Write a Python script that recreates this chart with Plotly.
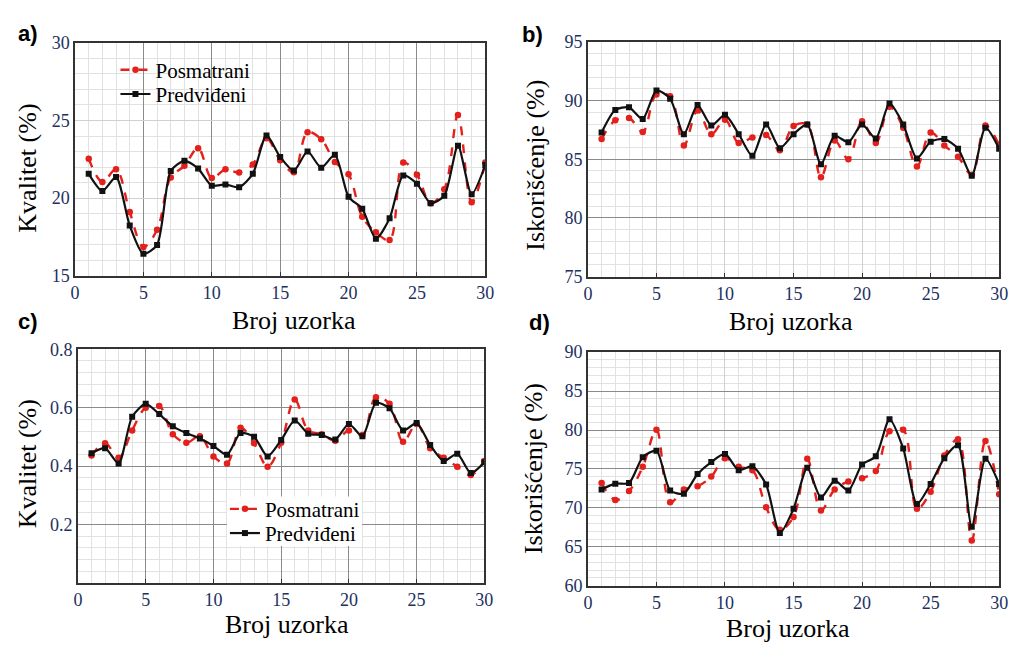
import plotly.graph_objects as go

# ---------------- data ----------------
sample = list(range(1, 31))

a_posmatrani = [22.54, 21.04, 21.85, 19.10, 16.85, 17.96, 21.33, 22.08, 23.21, 21.29,
                21.85, 21.65, 22.17, 23.85, 22.44, 21.67, 24.25, 23.79, 22.33, 21.54,
                18.79, 17.79, 17.29, 22.29, 21.50, 19.67, 20.56, 25.35, 19.73, 22.29]
a_predvideni = [21.56, 20.46, 21.35, 18.23, 16.40, 16.98, 21.75, 22.40, 21.90, 20.80,
                20.88, 20.70, 21.56, 24.04, 22.65, 21.77, 23.00, 21.96, 22.79, 20.08,
                19.31, 17.38, 18.69, 21.46, 20.92, 19.67, 20.15, 23.38, 20.25, 22.13]

b_posmatrani = [86.72, 88.32, 88.52, 87.33, 90.53, 90.37, 86.17, 89.15, 87.14, 88.38,
                86.39, 86.86, 87.06, 85.76, 87.83, 87.97, 83.47, 86.59, 85.01, 88.24,
                86.39, 89.48, 87.69, 84.38, 87.28, 86.17, 85.21, 83.69, 87.88, 86.23]
b_predvideni = [87.28, 89.21, 89.43, 88.43, 90.86, 90.17, 87.14, 89.62, 87.88, 88.79,
                87.14, 85.29, 87.97, 85.95, 87.14, 87.97, 84.57, 87.00, 86.45, 87.97,
                86.78, 89.76, 87.97, 85.07, 86.50, 86.72, 85.90, 83.60, 87.69, 85.90]

c_posmatrani = [0.436, 0.478, 0.428, 0.522, 0.600, 0.606, 0.509, 0.480, 0.502, 0.433,
                0.409, 0.531, 0.478, 0.398, 0.480, 0.628, 0.522, 0.509, 0.487, 0.522,
                0.506, 0.636, 0.613, 0.483, 0.544, 0.461, 0.428, 0.398, 0.369, 0.417]
c_predvideni = [0.444, 0.461, 0.409, 0.569, 0.613, 0.578, 0.536, 0.513, 0.494, 0.469,
                0.439, 0.513, 0.500, 0.433, 0.489, 0.556, 0.511, 0.506, 0.491, 0.544,
                0.502, 0.617, 0.598, 0.522, 0.547, 0.472, 0.417, 0.442, 0.376, 0.413]

d_posmatrani = [73.20, 71.00, 72.16, 75.27, 80.04, 70.71, 72.37, 72.78, 74.02, 76.39,
                75.27, 74.85, 70.08, 67.18, 68.84, 76.31, 69.67, 72.37, 73.40, 73.82,
                74.73, 79.83, 80.04, 69.88, 72.07, 76.72, 78.80, 65.81, 78.59, 71.74]
d_predvideni = [72.37, 73.11, 73.20, 76.51, 77.34, 72.24, 71.83, 74.36, 75.89, 76.93,
                74.85, 75.35, 72.99, 66.76, 69.88, 75.15, 71.33, 73.49, 72.24, 75.56,
                76.64, 81.37, 77.63, 70.50, 73.07, 76.39, 78.05, 67.59, 76.31, 73.07]

x_ticks = [0, 5, 10, 15, 20, 25, 30]
a_yticks = [15, 20, 25, 30]
b_yticks = [75, 80, 85, 90, 95]
c_yticks = [0.2, 0.4, 0.6, 0.8]
d_yticks = [60, 65, 70, 75, 80, 85, 90]

name_obs = "Posmatrani"
name_pred = "Predviđeni"
x_title = "Broj uzorka"

# ---------------- styling ----------------
W, H = 1021, 651
SERIF = "Liberation Serif"
SANS = "Liberation Sans"
TICKCOL = "#22305e"
RED = "#e3201c"
DARKGRID = "#8a8a8a"
LIGHTGRID = "#d0d0d0"
MINORGRID = "#e2e2e2"


def px_x(a, b):
    return [a / W, b / W]


def px_y(top, bottom):
    return [1 - bottom / H, 1 - top / H]


# key, x px, y px, y range, y ticks, y minor step, dark x-major, dark y-major, obs, pred, legends
panels = [
    ("1", (71, 487), (34, 274), [15, 30], a_yticks, 1, True, False, a_posmatrani, a_predvideni, ("legend", "legend3")),
    ("2", (591, 1008), (33, 275), [75, 95], b_yticks, 1, False, True, b_posmatrani, b_predvideni, None),
    ("3", (74, 486), (350, 591), [0, 0.8], c_yticks, 0.04, True, True, c_posmatrani, c_predvideni, ("legend2", "legend4")),
    ("4", (591, 1008), (353, 594), [60, 90], d_yticks, 1, False, True, d_posmatrani, d_predvideni, None),
]

fig = go.Figure()
layout = {}

for key, xd, yd, yr, ytv, ymin, xdark, ydark, obs, pred, legs in panels:
    xa = "x" if key == "1" else "x" + key
    ya = "y" if key == "1" else "y" + key
    xname = "xaxis" if key == "1" else "xaxis" + key
    yname = "yaxis" if key == "1" else "yaxis" + key
    show = legs is not None
    l_obs, l_pred = legs if legs else ("legend", "legend")
    fig.add_trace(go.Scatter(
        x=sample, y=obs, name=name_obs, mode="lines+markers",
        line=dict(color=RED, width=2.4, dash="dash", shape="spline", smoothing=1.0),
        marker=dict(symbol="circle", size=6.5, color=RED),
        xaxis=xa, yaxis=ya, showlegend=show, legend=l_obs))
    fig.add_trace(go.Scatter(
        x=sample, y=pred, name=name_pred, mode="lines+markers",
        line=dict(color="#111111", width=2.2, shape="spline", smoothing=0.7),
        marker=dict(symbol="square", size=6, color="#111111"),
        xaxis=xa, yaxis=ya, showlegend=show, legend=l_pred))

    layout[xname] = dict(
        domain=px_x(*xd), range=[0, 30], anchor=ya,
        tickvals=x_ticks, ticks="inside", ticklen=4, tickcolor="#333",
        showgrid=True, gridcolor=DARKGRID if xdark else LIGHTGRID, gridwidth=1,
        minor=dict(dtick=1, tick0=0, showgrid=True, gridcolor=MINORGRID, gridwidth=1),
        showline=True, linecolor="#333333", linewidth=1.6, mirror=True,
        zeroline=False,
        tickfont=dict(family=SERIF, size=18, color=TICKCOL))
    layout[yname] = dict(
        domain=px_y(*yd), range=yr, anchor=xa,
        tickvals=ytv, ticks="",
        showgrid=True, gridcolor=DARKGRID if ydark else LIGHTGRID, gridwidth=1,
        minor=dict(dtick=ymin, tick0=yr[0], showgrid=True, gridcolor=MINORGRID, gridwidth=1),
        showline=True, linecolor="#333333", linewidth=1.6, mirror=True,
        zeroline=False,
        tickfont=dict(family=SERIF, size=18, color=TICKCOL))

annotations = []


def ann(text, xc, yc, size, angle=0, bold=False, family=SERIF, color="black"):
    annotations.append(dict(
        text=("<b>%s</b>" % text) if bold else text,
        x=xc / W, y=1 - yc / H, xref="paper", yref="paper",
        xanchor="center", yanchor="middle", showarrow=False, textangle=angle,
        font=dict(family=family, size=size, color=color)))


# panel labels
ann("a)", 23, 24, 22, bold=True, family=SANS)
ann("b)", 535, 25, 22, bold=True, family=SANS)
ann("c)", 23, 321, 22, bold=True, family=SANS)
ann("d)", 542, 322, 22, bold=True, family=SANS)

# axis titles
ann("Kvalitet (%)", 23, 163, 26, angle=-90)
ann("Iskorišćenje (%)", 537, 160, 26, angle=-90)
ann("Kvalitet (%)", 23, 468, 26, angle=-90)
ann("Iskorišćenje (%)", 536, 473, 26, angle=-90)
ann(x_title, 293, 320, 26)
ann(x_title, 797, 321, 26)
ann(x_title, 286, 634, 26)
ann(x_title, 794, 638, 26)


def legend_at(xpx, ypx, size):
    return dict(x=xpx / W, y=1 - ypx / H, xanchor="left", yanchor="middle",
                bgcolor="rgba(255,255,255,0)", font=dict(family=SERIF, size=size, color="black"),
                itemwidth=30, tracegroupgap=0)


# white box behind the legend of panel c
legend_box = dict(type="rect", xref="paper", yref="paper",
                  x0=225 / W, x1=362 / W, y0=1 - 553 / H, y1=1 - 502 / H,
                  fillcolor="white", line=dict(width=0), layer="above")

fig.update_layout(
    width=W, height=H,
    margin=dict(l=0, r=0, t=0, b=0),
    paper_bgcolor="white", plot_bgcolor="white",
    annotations=annotations,
    shapes=[legend_box],
    legend=legend_at(112, 62, 21),
    legend3=legend_at(112, 87, 21),
    legend2=legend_at(223, 515, 21),
    legend4=legend_at(223, 540, 21),
    **layout,
)

fig.write_html("out.html", config={"displayModeBar": False},
               post_script="document.body.style.margin='0';document.body.style.overflow='hidden';")
